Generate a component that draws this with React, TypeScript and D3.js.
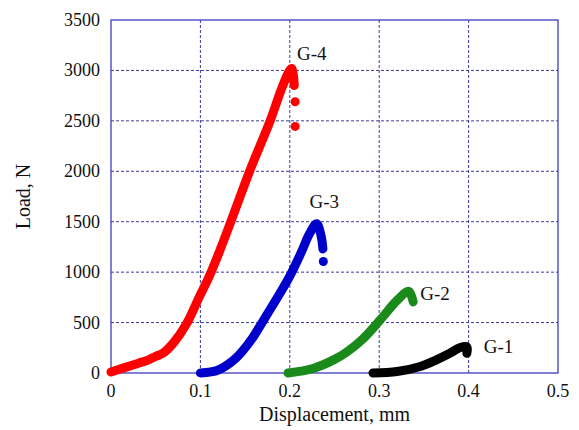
import React from "react";
import * as d3 from "d3";

// values (displacement mm, load N)
const g4Disp = [0, 0.016, 0.03, 0.042, 0.05, 0.058, 0.07, 0.084, 0.098, 0.11, 0.122, 0.134, 0.155, 0.178, 0.19, 0.198, 0.202, 0.204, 0.205];
const g4Load = [10, 56, 95, 130, 165, 195, 300, 480, 740, 960, 1220, 1500, 2000, 2500, 2800, 2970, 3020, 2950, 2850];
const g4DropDisp = [0.206, 0.206];
const g4DropLoad = [2690, 2445];

const g3Disp = [0.1, 0.12, 0.14, 0.157, 0.169, 0.189, 0.2, 0.213, 0.222, 0.23, 0.235, 0.237];
const g3Load = [0, 30, 150, 330, 500, 790, 960, 1200, 1380, 1480, 1360, 1230];
const g3DropDisp = [0.2375];
const g3DropLoad = [1105];

const g2Disp = [0.198, 0.226, 0.249, 0.264, 0.282, 0.301, 0.32, 0.333, 0.338];
const g2Load = [0, 45, 130, 210, 340, 525, 720, 810, 705];

const g1Disp = [0.293, 0.32, 0.346, 0.364, 0.379, 0.39, 0.398, 0.398];
const g1Load = [0, 15, 65, 130, 195, 250, 260, 195];

const xTicks = [0, 0.1, 0.2, 0.3, 0.4, 0.5];
const yTicks = [0, 500, 1000, 1500, 2000, 2500, 3000, 3500];

const series = [
  { name: "G-4", color: "#ff0000", disp: g4Disp, load: g4Load, dropDisp: g4DropDisp, dropLoad: g4DropLoad, lx: 0.208, ly: 3100 },
  { name: "G-3", color: "#0000cc", disp: g3Disp, load: g3Load, dropDisp: g3DropDisp, dropLoad: g3DropLoad, lx: 0.222, ly: 1640 },
  { name: "G-2", color: "#1a8a1a", disp: g2Disp, load: g2Load, dropDisp: [], dropLoad: [], lx: 0.346, ly: 720 },
  { name: "G-1", color: "#000000", disp: g1Disp, load: g1Load, dropDisp: [], dropLoad: [], lx: 0.417, ly: 200 },
];

const W = 579;
const H = 430;
const left = 111;
const right = 558;
const top = 20;
const bottom = 373;

export default function App() {
  const x = d3.scaleLinear().domain([0, 0.5]).range([left, right]);
  const y = d3.scaleLinear().domain([0, 3500]).range([bottom, top]);

  const font = "'Liberation Serif', 'Times New Roman', serif";
  const gridColor = "#3a3a9a";
  const frameColor = "#3c3cc0";

  return (
    <svg width={W} height={H} style={{ position: "absolute", left: 0, top: 0, background: "#fff" }} fontFamily={font}>
      {/* grid */}
      {xTicks.slice(1, -1).map((t) => (
        <line key={"gx" + t} x1={x(t)} x2={x(t)} y1={top} y2={bottom} stroke={gridColor} strokeWidth={1} strokeDasharray="3,2" />
      ))}
      {yTicks.slice(1, -1).map((t) => (
        <line key={"gy" + t} x1={left} x2={right} y1={y(t)} y2={y(t)} stroke={gridColor} strokeWidth={1} strokeDasharray="3,2" />
      ))}
      <rect x={left} y={top} width={right - left} height={bottom - top} fill="none" stroke={frameColor} strokeWidth={1.3} />

      {/* curves */}
      {series.map((s) => {
        const pts: [number, number][] = s.disp.map((d, i) => [x(d), y(s.load[i])]);
        const path = d3.line().curve(d3.curveCatmullRom)(pts) || "";
        return (
          <g key={s.name}>
            <path d={path} fill="none" stroke={s.color} strokeWidth={9} strokeLinecap="round" strokeLinejoin="round" />
            {s.dropDisp.map((d, i) => (
              <circle key={i} cx={x(d)} cy={y(s.dropLoad[i])} r={4.5} fill={s.color} />
            ))}
            <text x={x(s.lx)} y={y(s.ly)} fontSize={19} fill="#111">{s.name}</text>
          </g>
        );
      })}

      {/* tick labels */}
      {xTicks.map((t) => (
        <text key={"tx" + t} x={x(t)} y={bottom + 24} fontSize={18} textAnchor="middle" fill="#111">
          {String(t)}
        </text>
      ))}
      {yTicks.map((t) => (
        <text key={"ty" + t} x={left - 11} y={y(t) + 6} fontSize={18} textAnchor="end" fill="#111">
          {t}
        </text>
      ))}

      <text x={(left + right) / 2} y={421} fontSize={20} textAnchor="middle" fill="#111">
        Displacement, mm
      </text>
      <text transform={`translate(30, ${(top + bottom) / 2}) rotate(-90)`} fontSize={20} textAnchor="middle" fill="#111">
        Load, N
      </text>
    </svg>
  );
}
